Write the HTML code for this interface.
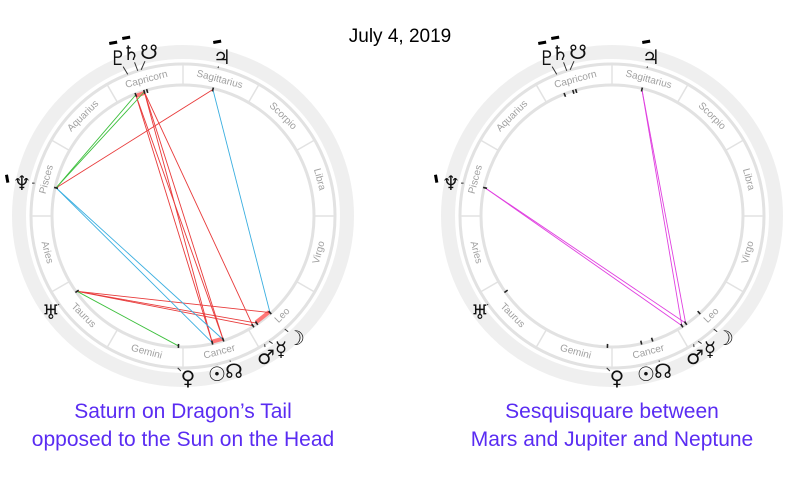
<!DOCTYPE html>
<html><head><meta charset="utf-8">
<style>
html,body{margin:0;padding:0;background:#fff;}
body{width:800px;height:487px;overflow:hidden;position:relative;font-family:"Liberation Sans",sans-serif;}
.cap{position:absolute;color:#5a2cf2;font-size:21px;text-align:center;line-height:28px;white-space:nowrap;}
#title{position:absolute;left:0;width:800px;top:26px;text-align:center;font-size:19px;color:#000;}
</style></head>
<body>
<div id="title">July 4, 2019</div>
<svg id="svg" width="800" height="487" style="position:absolute;left:0;top:0"></svg>
<div class="cap" style="left:13px;width:340px;top:398px">Saturn on Dragon’s Tail<br>opposed to the Sun on the Head</div>
<div class="cap" style="left:442px;width:340px;top:398px">Sesquisquare between<br>Mars and Jupiter and Neptune</div>
<script>
const signs=["Aries","Taurus","Gemini","Cancer","Leo","Virgo","Libra","Scorpio","Sagittarius","Capricorn","Aquarius","Pisces"];
const planetNames=["pluto","saturn","south-node","jupiter","neptune","uranus","venus","sun","north-node","mars","mercury","moon"];
const planetGlyphs=["♇","♄","☋","♃","♆","♅","♀","☉","☊","♂","☿","☽"];
const planetLon=[291.3,287.3,286,256.7,347.5,35.4,88,103,108,122.5,124.5,132];
const retrograde=[1,1,0,1,1,0,0,0,0,0,0,0];
const glyphOffX=[-65,-52,-34,39,-161,-132,5,34,51,83,98,113];
const glyphOffY=[-158,-163,-164,-159,-33,96,162,158,155,141,133,122];
// aspects: [from index, to index, color]
const leftAspects=[[0,7,"red"],[0,8,"red"],[1,7,"red"],[1,8,"red"],[1,9,"red"],[3,4,"red"],[5,9,"red"],[5,10,"red"],[5,11,"red"],[4,0,"green"],[4,1,"green"],[5,6,"green"],[4,7,"blue"],[4,8,"blue"],[3,11,"blue"]];
const rightAspects=[[4,9,"mag"],[4,10,"mag"],[3,9,"mag"],[3,10,"mag"]];
const leftHighlights=[[287.3,291.3],[103,108],[124.5,132]];
const colors={red:"#e83a3a",green:"#3cbf3c",blue:"#3aaee0",mag:"#e040e0"};
const NS="http://www.w3.org/2000/svg";
const svg=document.getElementById("svg");
function mk(tag,attrs,parent){const e=document.createElementNS(NS,tag);for(const k in attrs)e.setAttribute(k,attrs[k]);(parent||svg).appendChild(e);return e;}
function pt(cx,cy,r,lon){const a=(180+lon)*Math.PI/180;return [cx+r*Math.cos(a),cy-r*Math.sin(a)];}
function chart(side,cx,cy,aspects,highlights){
  const g=mk("g",{});
  
  
  const outer=mk("circle",{cx:cx,cy:cy,r:164,fill:"none",stroke:"#efefef","stroke-width":14},g);
  
  
  mk("circle",{cx:cx,cy:cy,r:152,fill:"none",stroke:"#e2e2e2","stroke-width":3},g);
  mk("circle",{cx:cx,cy:cy,r:131,fill:"none",stroke:"#e2e2e2","stroke-width":3},g);
  for(let i=0;i<12;i++){
    const a=pt(cx,cy,131,i*30),b=pt(cx,cy,152,i*30);
    mk("line",{x1:a[0],y1:a[1],x2:b[0],y2:b[1],stroke:"#e2e2e2","stroke-width":1.5},g);
    const mid=i*30+15, m=180+mid, p=pt(cx,cy,141,mid);
    let rot=(m%360)<180?90-m:270-m;
    const t=mk("text",{x:p[0],y:p[1],"font-size":10,fill:"#a0a0a0","text-anchor":"middle","dominant-baseline":"central",transform:`rotate(${rot} ${p[0]} ${p[1]})`},g);
    t.textContent=signs[i];
    
    
  }
  highlights.forEach(h=>{
    const a=pt(cx,cy,129,h[0]),b=pt(cx,cy,129,h[1]);
    const hl=mk("line",{x1:a[0],y1:a[1],x2:b[0],y2:b[1],stroke:"#f77","stroke-width":4},g);
    
    
  });
  aspects.forEach(asp=>{
    const a=pt(cx,cy,130,planetLon[asp[0]]),b=pt(cx,cy,130,planetLon[asp[1]]);
    const l=mk("line",{x1:a[0],y1:a[1],x2:b[0],y2:b[1],stroke:colors[asp[2]],"stroke-width":0.9},g);
    
    
  });
  planetLon.forEach((lon,i)=>{
    const a=pt(cx,cy,128,lon),b=pt(cx,cy,132,lon);
    mk("line",{x1:a[0],y1:a[1],x2:b[0],y2:b[1],stroke:"#222","stroke-width":1.6},g);
    const gx=cx+glyphOffX[i], gy=cy+glyphOffY[i];
    const c=pt(cx,cy,152,lon);
    const dx=gx-c[0], dy=gy-c[1], d=Math.hypot(dx,dy);
    mk("line",{x1:c[0],y1:c[1],x2:c[0]+dx*(d-10)/d,y2:c[1]+dy*(d-10)/d,stroke:"#333","stroke-width":1},g);
    const t=mk("text",{x:gx,y:gy,"font-size":20,fill:"#111","text-anchor":"middle","dominant-baseline":"central","font-family":"DejaVu Sans,sans-serif"},g);
    t.textContent=planetGlyphs[i];
    
    
    if(retrograde[i]){
      const rx=i===4?gx-17:gx-9, ry=i===4?gy-8:gy-16;
      const r=mk("rect",{x:rx,y:ry,width:i===4?3:8,height:i===4?8:3,fill:"#000",transform:`rotate(-10 ${rx} ${ry})`},g);
      
      
    }
  });
}
chart("left",183,216,leftAspects,leftHighlights);
chart("right",612,216,rightAspects,[]);
</script>
</body></html>
